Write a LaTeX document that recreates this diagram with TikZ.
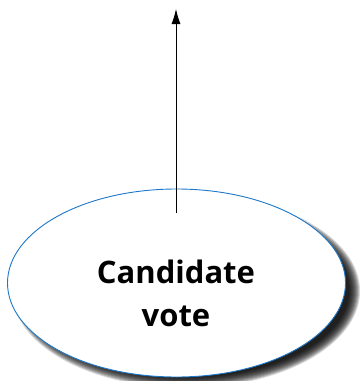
\documentclass[tikz,border=0pt]{standalone}
\usepackage{fontspec}
\setmainfont{Open Sans}
\usetikzlibrary{arrows.meta,positioning,shapes.geometric}
\definecolor{ovalblue}{RGB}{30,120,200}
\tikzset{
  oval/.style={ellipse,draw=ovalblue,line width=0.9pt,fill=white,minimum width=338pt,minimum height=188pt,inner sep=0pt},
  caption/.style={align=center,inner sep=0pt,font=\fontsize{31}{43}\selectfont\bfseries},
  blur/.style={ellipse,fill=black,fill opacity=0.16,draw=none,inner sep=0pt},
  up/.style={-{Latex[length=15pt,width=9pt]},line width=0.8pt},
}
\begin{document}
\begin{tikzpicture}[x=1pt,y=-1pt]
  \useasboundingbox (0,0) rectangle (364,381);
  % soft shadow
  \foreach \k in {0,...,11}
    \node[blur,minimum width={348pt-2*\k pt},minimum height={194pt-2*\k pt}] at (186,291) {};
  \node[oval] (vote) at (176.5,283) {};
  \node[caption] (votetext) at (176,293) {Candidate\\vote};
  \coordinate (src) at (176,213);
  \coordinate (top) at (176,9);
  \draw[up] (src) -- (top);
\end{tikzpicture}
\end{document}
